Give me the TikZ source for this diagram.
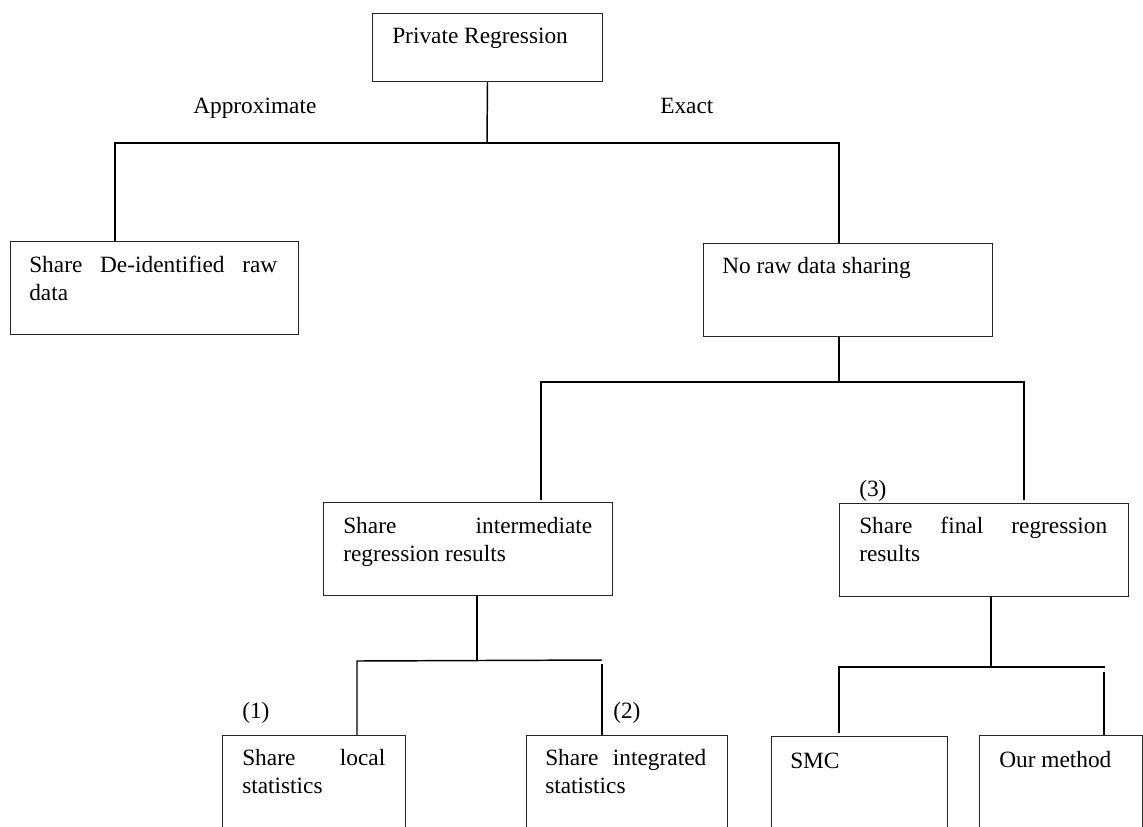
\documentclass[tikz,border=0pt]{standalone}
\usepackage{fontspec}
\setmainfont{Liberation Serif}
\usetikzlibrary{calc}
\tikzset{
  box/.style={draw=black!85, line width=0.75pt, rectangle, inner sep=0pt, anchor=north west},
  sz/.style n args={2}{minimum width=#1*0.75pt, minimum height=#2*0.75pt},
  conn/.style={draw=black, line width=1.1pt},
  txt/.style={anchor=base west, inner sep=0pt}
}
\begin{document}
\begin{tikzpicture}[x=0.75pt,y=-0.75pt,
  every node/.style={font=\fontsize{17.5pt}{21pt}\selectfont}]
\useasboundingbox (0,0) rectangle (1143,826);
\clip (0,0) rectangle (1143,826);

% boxes
\node[box, sz={230}{68}] (top) at (372,13) {};
\node[box, sz={288}{93}] (A) at (10,241) {};
\node[box, sz={289}{93}] (B) at (703,243) {};
\node[box, sz={289}{93}] (C) at (323,502) {};
\node[box, sz={289}{93}] (D) at (839,503) {};
\node[box, sz={183}{120}] (E) at (222,735) {};
\node[box, sz={201}{120}] (F) at (526,735) {};
\node[box, sz={176}{120}] (G) at (771,736) {};
\node[box, sz={163}{120}] (H) at (979,735) {};

% box texts
\node[txt] (tTop) at ($(top.north west)+(20,30)$) {Private Regression};
\node[txt] (tA) at ($(A.north west)+(19,31)$) {\parbox[t]{186pt}{Share\hfill De-identified\hfill raw\\data}};
\node[txt] (tB) at ($(B.north west)+(19,30)$) {No raw data sharing};
\node[txt] (tC) at ($(C.north west)+(20,31)$) {\parbox[t]{186.75pt}{Share\hfill intermediate\\regression results}};
\node[txt] (tD) at ($(D.north west)+(20,30)$) {\parbox[t]{186pt}{Share\hfill final\hfill regression\\results}};
\node[txt] (tE) at ($(E.north west)+(20,30)$) {\parbox[t]{107.25pt}{Share\hfill local\\statistics}};
\node[txt] (tF) at ($(F.north west)+(19,30)$) {\parbox[t]{120.75pt}{Share\hfill integrated\\statistics}};
\node[txt] (tG) at ($(G.north west)+(19,32)$) {SMC};
\node[txt] (tH) at ($(H.north west)+(20,32)$) {Our method};

% labels
\node[txt] (lApprox) at (193,113) {Approximate};
\node[txt] (lExact) at (660,113) {Exact};
\node[txt] (l1) at (242,718) {(1)};
\node[txt] (l2) at (613,718) {(2)};
\node[txt] (l3) at (859,496) {(3)};

% connectors
\coordinate (j1) at (487,143);
\coordinate (jL) at (115,143);
\coordinate (jR) at (839,143);
\draw[conn] (top.south) -- (j1);
\draw[conn] (jL |- A.north) -- (jL) -- (jR) -- (jR |- B.north);

\coordinate (j2) at (839,382);
\coordinate (j2L) at (541,382);
\coordinate (j2R) at (1024,382);
\draw[conn] (j2 |- B.south) -- (j2);
\draw[conn] ($(j2L |- C.north)+(0,-2)$) -- (j2L) -- (j2R) -- ($(j2R |- D.north)+(0,-3)$);

\coordinate (j3) at (477,661);
\coordinate (j3L) at (357,661);
\coordinate (j3R) at (602,660);
\coordinate (j3Rb) at (602,664);
\draw[conn] (j3 |- C.south) -- (j3);
\draw[conn] (j3L |- E.north) -- (j3L) -- (j3R);
\draw[conn] (j3Rb) -- (j3Rb |- F.north);

\coordinate (j4) at (991,667);
\coordinate (j4L) at (839,667);
\coordinate (j4R) at (1105,667);
\coordinate (j4Rb) at (1104,672);
\draw[conn] (j4 |- D.south) -- (j4);
\draw[conn] ($(j4L |- G.north)+(0,-3)$) -- (j4L) -- (j4R);
\draw[conn] (j4Rb) -- (j4Rb |- H.north);
\end{tikzpicture}
\end{document}
